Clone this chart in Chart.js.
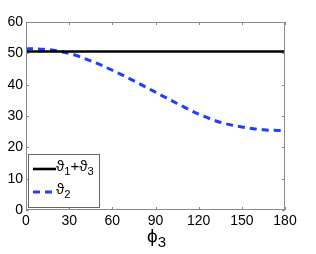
<!DOCTYPE html>
<html>
<head>
<meta charset="utf-8">
<script src="https://cdn.jsdelivr.net/npm/chart.js@4"></script>
<style>
  html, body { margin: 0; padding: 0; background: #fff; }
  #wrap { width: 316px; height: 254px; }
</style>
</head>
<body>
<div id="wrap"><canvas id="chart" width="316" height="254"></canvas></div>
<script>
// phi_3 sample positions (degrees)
const phi3 = [0, 15, 30, 45, 60, 75, 90, 105, 120, 135, 150, 165, 180];
const theta13 = [50.6, 50.6, 50.6, 50.6, 50.6, 50.6, 50.6, 50.6, 50.6, 50.6, 50.6, 50.6, 50.6];
const theta2 = [51.5, 51.2, 50.0, 47.6, 44.6, 41.2, 37.6, 34.0, 30.6, 28.0, 26.5, 25.6, 25.3];
const xTicks = [0, 30, 60, 90, 120, 150, 180];
const yTicks = [0, 10, 20, 30, 40, 50, 60];

const FONT = "'Liberation Sans', Arial, sans-serif";
const AXIS = "#8a8a8a";

// draw text with a subscript, e.g. ϑ_1
function subText(ctx, parts, x, y, size) {
    for (const p of parts) {
        if (p.sub) {
            ctx.font = (size * 0.75) + "px " + FONT;
            ctx.fillText(p.t, x, y + size * 0.3);
        } else {
            ctx.font = size + "px " + FONT;
            ctx.fillText(p.t, x, y);
        }
        x += ctx.measureText(p.t).width;
    }
    return x;
}

const matlabAxes = {
    id: "matlabAxes",
    afterDatasetsDraw(chart) {
        const ctx = chart.ctx;
        const a = chart.chartArea;
        const xs = chart.scales.x, ys = chart.scales.y;
        ctx.save();
        ctx.strokeStyle = AXIS;
        ctx.lineWidth = 1;
        ctx.beginPath();
        ctx.rect(a.left + 0.5, a.top + 0.5, a.right - a.left - 1, a.bottom - a.top - 1);
        // inward ticks
        xTicks.forEach(v => {
            const px = Math.round(xs.getPixelForValue(v)) + 0.5;
            ctx.moveTo(px, a.bottom); ctx.lineTo(px, a.bottom - 3);
            ctx.moveTo(px, a.top); ctx.lineTo(px, a.top + 3);
        });
        yTicks.forEach(v => {
            const py = Math.round(ys.getPixelForValue(v)) + 0.5;
            ctx.moveTo(a.left, py); ctx.lineTo(a.left + 3, py);
            ctx.moveTo(a.right, py); ctx.lineTo(a.right - 3, py);
        });
        ctx.stroke();

        // legend box
        const lx = 28, ly = 154, lw = 71, lh = 53;
        ctx.fillStyle = "#fff";
        ctx.fillRect(lx, ly, lw, lh);
        ctx.strokeStyle = "#666";
        ctx.strokeRect(lx + 0.5, ly + 0.5, lw, lh);
        const ds = chart.data.datasets;
        const rows = [169, 192];
        const labels = [
            [{t: "ϑ"}, {t: "1", sub: true}, {t: "+ϑ"}, {t: "3", sub: true}],
            [{t: "ϑ"}, {t: "2", sub: true}]
        ];
        ds.forEach((d, i) => {
            ctx.strokeStyle = d.borderColor;
            ctx.lineWidth = d.borderWidth;
            ctx.setLineDash(d.borderDash || []);
            ctx.beginPath();
            ctx.moveTo(33, rows[i]); ctx.lineTo(56, rows[i]);
            ctx.stroke();
            ctx.setLineDash([]);
            ctx.fillStyle = "#000";
            ctx.textBaseline = "middle";
            ctx.textAlign = "left";
            subText(ctx, labels[i], 56, rows[i] - 2, 15);
        });

        // x axis title
        ctx.fillStyle = "#000";
        ctx.textBaseline = "alphabetic";
        ctx.font = "19px " + FONT;
        const w = ctx.measureText("ϕ").width;
        ctx.fillText("ϕ", 147, 242);
        ctx.font = "15px " + FONT;
        ctx.fillText("3", 147 + w, 247);
        ctx.restore();
    }
};

new Chart(document.getElementById("chart"), {
    type: "line",
    data: {
        labels: phi3,
        datasets: [
            {
                label: "theta1+theta3",
                data: phi3.map((p, i) => ({x: p, y: theta13[i]})),
                borderColor: "#000000",
                borderWidth: 2.6,
                pointRadius: 0,
                fill: false,
            },
            {
                label: "theta2",
                data: phi3.map((p, i) => ({x: p, y: theta2[i]})),
                borderColor: "#1f3cff",
                borderWidth: 3,
                borderDash: [7, 5],
                cubicInterpolationMode: "monotone",
                pointRadius: 0,
                fill: false,
            },
        ],
    },
    options: {
        responsive: false,
        animation: false,
        layout: { padding: { left: 0, right: 31, top: 22, bottom: 0 } },
        scales: {
            x: {
                type: "linear",
                min: 0, max: 180,
                afterBuildTicks: s => { s.ticks = xTicks.map(v => ({value: v})); },
                afterFit: s => { s.height = 44; },
                grid: { display: false, drawTicks: false },
                border: { display: false },
                ticks: { color: "#000", font: { family: FONT, size: 14 }, padding: 3, maxRotation: 0 },
            },
            y: {
                min: 0, max: 60,
                afterBuildTicks: s => { s.ticks = yTicks.map(v => ({value: v})); },
                afterFit: s => { s.width = 26; },
                grid: { display: false, drawTicks: false },
                border: { display: false },
                ticks: { color: "#000", font: { family: FONT, size: 14 }, padding: 3 },
            },
        },
        plugins: {
            legend: { display: false },
            tooltip: { enabled: false },
        },
    },
    plugins: [matlabAxes],
});
</script>
</body>
</html>
